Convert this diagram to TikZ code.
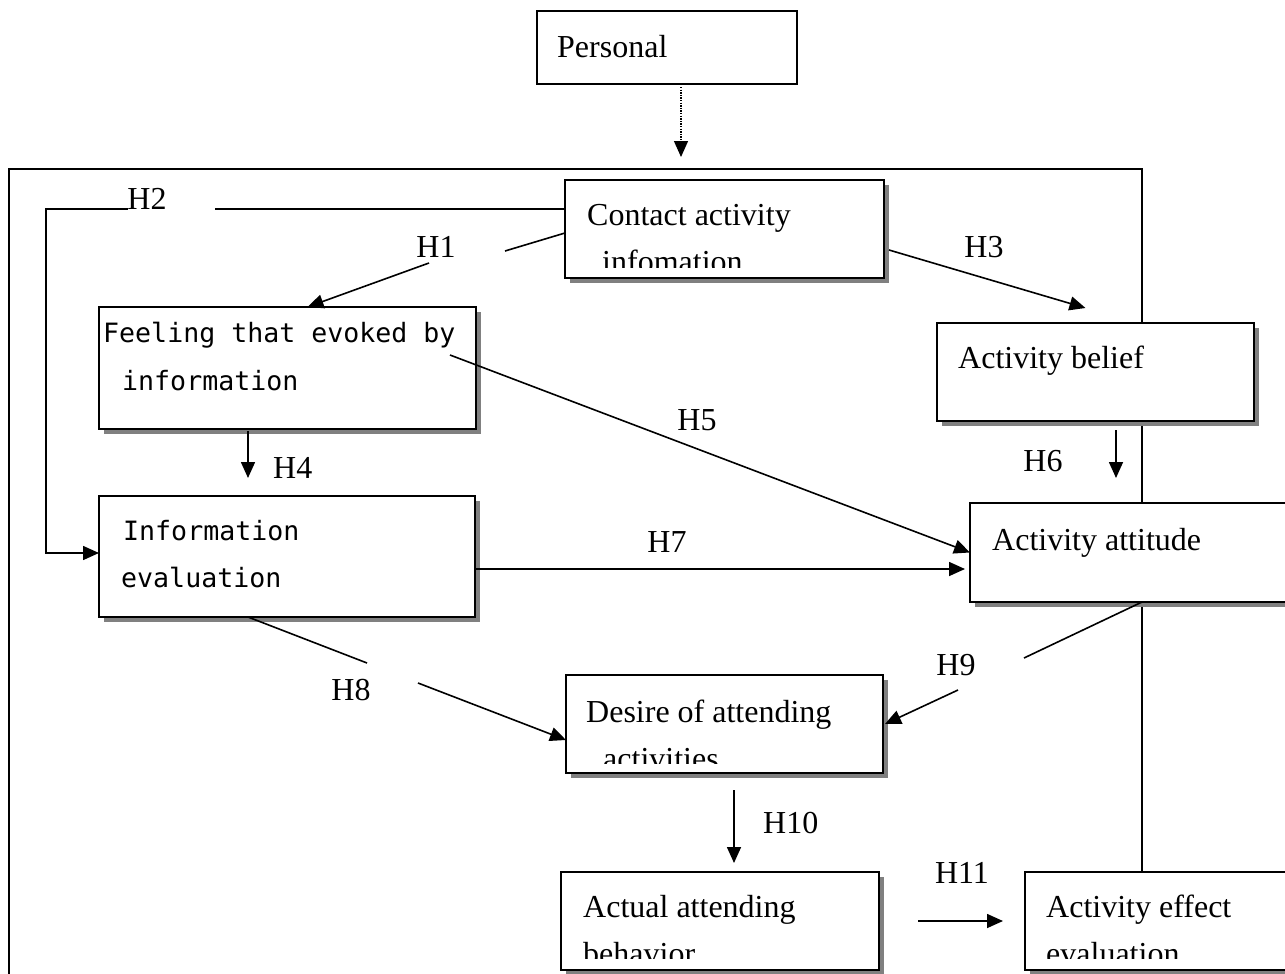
\documentclass[tikz,border=0pt]{standalone}
\usepackage{fontspec}
\setmainfont{Liberation Serif}
\newfontfamily\monofnt{DejaVu Sans Mono}
\usetikzlibrary{arrows.meta,shadows}
\begin{document}
\begin{tikzpicture}[x=1pt,y=-1pt,
  box/.style={draw, line width=1.8pt, fill=white, inner sep=0pt, outer sep=0pt, anchor=north west},
  shbox/.style={box, drop shadow={shadow xshift=5pt, shadow yshift=-5pt, fill=black!50, opacity=1}},
  txt/.style={inner sep=0pt, anchor=base west, font=\fontsize{32pt}{38pt}\selectfont},
  mtxt/.style={inner sep=0pt, anchor=base west, font=\monofnt\fontsize{26.6pt}{32pt}\selectfont},
  lab/.style={inner sep=0pt, font=\fontsize{32pt}{38pt}\selectfont},
  conn/.style={line width=1.6pt},
  arr/.style={conn, -{Triangle[length=16pt,width=14pt]}}]
\useasboundingbox (0,0) rectangle (1285,974);
% frame
\draw[line width=2.2pt] (9,1000) -- (9,169) -- (1142,169) -- (1142,1000);
% boxes
\node[box, minimum width=260pt, minimum height=73pt] (personal) at (537,11) {};
\node[shbox, minimum width=319pt, minimum height=98pt] (contact) at (565,180) {};
\node[shbox, minimum width=377pt, minimum height=122pt] (feeling) at (99,307) {};
\node[shbox, minimum width=317pt, minimum height=98pt] (belief) at (937,323) {};
\node[shbox, minimum width=376pt, minimum height=121pt] (info) at (99,496) {};
\node[shbox, minimum width=340pt, minimum height=99pt] (attitude) at (970,503) {};
\node[shbox, minimum width=317pt, minimum height=98pt] (desire) at (566,675) {};
\node[shbox, minimum width=318pt, minimum height=98pt] (actual) at (561,872) {};
\node[shbox, minimum width=300pt, minimum height=98pt] (effect) at (1025,872) {};
% texts
\node[txt] (tpersonal) at (557,58) {Personal};
\node[txt] (tcontact1) at (587,225) {Contact activity};
\begin{scope}
  \clip (565,180) rectangle (884,267);
  \node[txt] (tcontact2) at (602,272) {infomation};
\end{scope}
\node[mtxt] (tfeel1) at (103,342) {Feeling that evoked by};
\node[mtxt] (tfeel2) at (122,390) {information};
\node[txt] (tbelief) at (958,368) {Activity belief};
\node[mtxt] (tinfo1) at (123,540) {Information};
\node[mtxt] (tinfo2) at (121,587) {evaluation};
\node[txt] (tattitude) at (992,550) {Activity attitude};
\node[txt] (tdesire1) at (586,722) {Desire of attending};
\begin{scope}
  \clip (566,675) rectangle (883,763);
  \node[txt] (tdesire2) at (603,769) {activities};
\end{scope}
\node[txt] (tactual1) at (583,917) {Actual attending};
\begin{scope}
  \clip (561,872) rectangle (879,958);
  \node[txt] (tactual2) at (583,964) {behavior};
\end{scope}
\node[txt] (teffect1) at (1046,917) {Activity effect};
\begin{scope}
  \clip (1025,872) rectangle (1325,958);
  \node[txt] (teffect2) at (1046,964) {evaluation};
\end{scope}
% connectors
\coordinate (pin) at (681,157);
\draw[line width=1.3pt, dash pattern=on 1.3pt off 1.3pt, -{Triangle[length=16pt,width=14pt]}] ([shift={(14pt,-3pt)}]personal.south) -- (pin);
\coordinate (h2a) at (215,209);
\coordinate (h2b) at (128,209);
\draw[conn] ([yshift=20pt]contact.west) -- (h2a);
\draw[arr] (h2b) -- ++(-82,0) |- ([yshift=3.5pt]info.west);
\coordinate (h1a) at (505,251);
\coordinate (h1b) at (429,263);
\draw[conn] ([yshift=-4pt]contact.west) -- (h1a);
\draw[arr] (h1b) -- ([xshift=20pt]feeling.north);
\draw[arr] ([shift={(5pt,-21pt)}]contact.east) -- ([shift={(-10pt,15pt)}]belief.north);
\draw[arr] ([shift={(-39.5pt,-2pt)}]feeling.south) -- ([shift={(-39pt,18pt)}]info.north);
\draw[arr] ([shift={(-26pt,13pt)}]feeling.east) -- (attitude.west);
\draw[arr] ([shift={(20.5pt,-9pt)}]belief.south) -- ([shift={(-24pt,25pt)}]attitude.north);
\draw[arr] ([yshift=-12.5pt]info.east) -- ([shift={(-5pt,-16.5pt)}]attitude.west);
\coordinate (h8a) at (367,663);
\coordinate (h8b) at (418,683);
\draw[conn] ([xshift=-39pt]info.south) -- (h8a);
\draw[arr] (h8b) -- ([yshift=-16pt]desire.west);
\coordinate (h9a) at (1024,658);
\coordinate (h9b) at (958,690);
\draw[conn] ([xshift=2pt]attitude.south) -- (h9a);
\draw[arr] (h9b) -- ([xshift=2pt]desire.east);
\draw[arr] ([shift={(9.5pt,-17pt)}]desire.south) -- ([shift={(14pt,9pt)}]actual.north);
\draw[arr] ([xshift=39pt]actual.east) -- ([xshift=-22pt]effect.west);
% labels
\node[lab] (lh1) at (436,247) {H1};
\node[lab] (lh2) at (147,199) {H2};
\node[lab] (lh3) at (984,247) {H3};
\node[lab, anchor=west] (lh4) at (273,468) {H4};
\node[lab] (lh5) at (697,420) {H5};
\node[lab] (lh6) at (1043,461) {H6};
\node[lab] (lh7) at (667,542) {H7};
\node[lab] (lh8) at (351,690) {H8};
\node[lab] (lh9) at (956,665) {H9};
\node[lab, anchor=west] (lh10) at (763,823) {H10};
\node[lab] (lh11) at (962,873) {H11};
\end{tikzpicture}
\end{document}
